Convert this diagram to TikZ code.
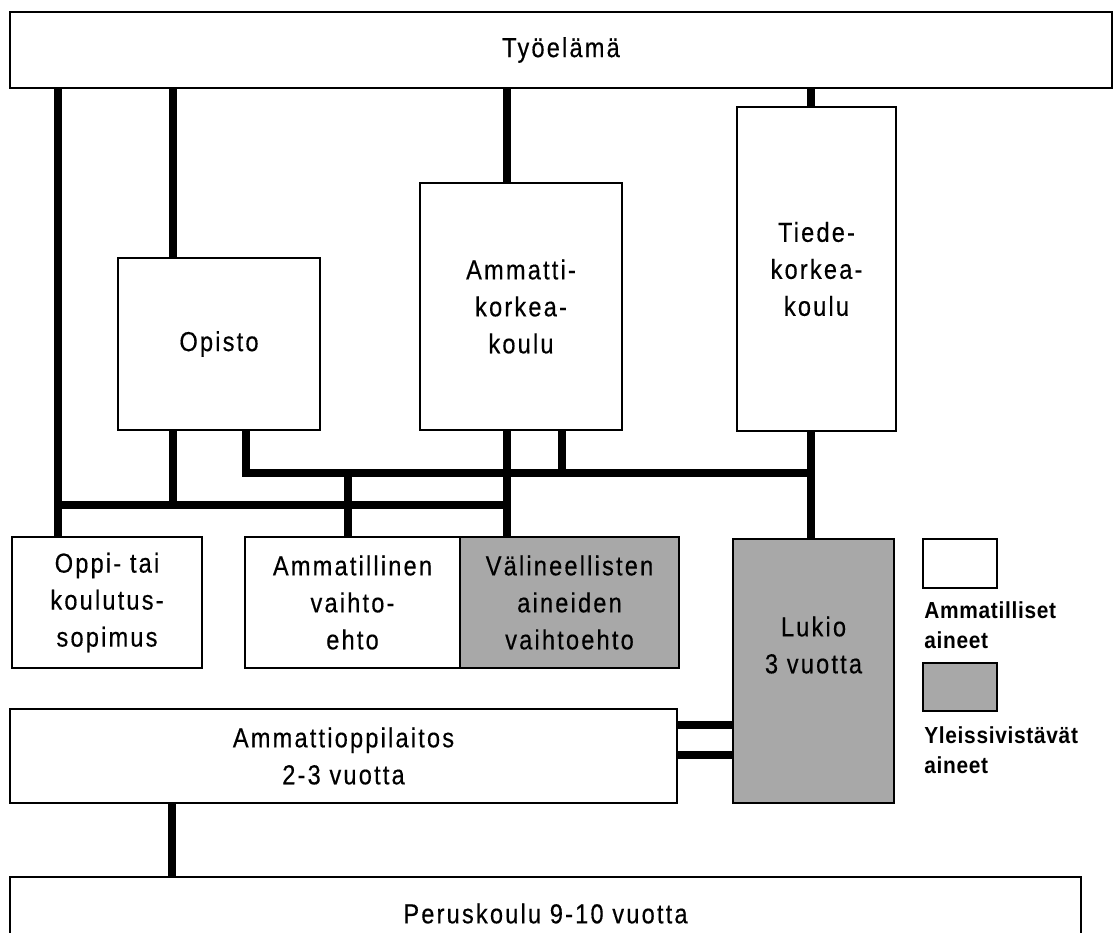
\documentclass[tikz,border=0pt]{standalone}
\usepackage{fontspec}
\setmainfont{Liberation Sans}[LetterSpace=8, FakeStretch=0.86, FakeBold=0.4]
\newfontfamily\legendfont{Liberation Sans}[LetterSpace=3, FakeStretch=0.9]
\usepackage{tikz}
\usetikzlibrary{positioning}
\definecolor{shadegray}{gray}{0.66}

\begin{document}
\begin{tikzpicture}[
        x=0.025cm, y=-0.025cm,
        box/.style={
            rectangle,
            draw,
            fill=white,
            line width=1.8pt,
            inner sep=0pt,
            align=center,
            font=\fontsize{19.5}{26.3}\selectfont
        },
        graybox/.style={
            box,
            fill=shadegray
        },
        txt/.style={
            align=center,
            inner sep=0pt,
            font=\fontsize{19.5}{26.3}\selectfont
        },
        legendtxt/.style={
            align=left,
            inner sep=0pt,
            anchor=north west,
            font=\legendfont\bfseries\fontsize{16.5}{21.3}\selectfont
        },
        pipe/.style={
            line width=6.3pt,
            line join=miter
        },
        thinpipe/.style={
            line width=5pt
        }
    ]

    \useasboundingbox (0,0) rectangle (1117,933);

    % Nodes
    \node[box, minimum width=27.55cm, minimum height=1.9cm] (work) at (561,50) {Työelämä};
    \node[box, minimum width=5.05cm, minimum height=4.3cm] (opisto) at (219,344) {Opisto};
    \node[box, minimum width=5.05cm, minimum height=6.175cm] (amk) at (521,306.5) {Ammatti-\\korkea-\\koulu};
    \node[box, minimum width=3.975cm, minimum height=8.1cm] (tiede) at (816.5,269) {Tiede-\\korkea-\\koulu};
    \node[box, minimum width=4.75cm, minimum height=3.275cm] (oppi) at (107,602.5) {Oppi- tai\\koulutus-\\sopimus};
    \node[box, minimum width=5.375cm, minimum height=3.275cm] (ammvaiht) at (352.5,602.5) {Ammatillinen\\vaihto-\\ehto};
    \node[graybox, minimum width=5.475cm, minimum height=3.275cm] (valin) at (569.5,602.5) {Välineellisten\\aineiden\\vaihtoehto};
    \node[graybox, minimum width=4.025cm, minimum height=6.6cm] (lukio) at (813.5,671) {};
    \node[txt] (lukiotxt) at (813.5,645) {Lukio\\3 vuotta};
    \node[box, minimum width=16.675cm, minimum height=2.35cm] (ammop) at (343.5,756) {Ammattioppilaitos\\2-3 vuotta};
    \node[box, minimum width=26.775cm, minimum height=1.825cm] (perus) at (545.5,913.5) {Peruskoulu 9-10 vuotta};

    % Legend
    \node[box, minimum width=1.85cm, minimum height=1.225cm] (legwhite) at (960,563.5) {};
    \node[legendtxt] (legwhitetxt) at (924,601) {Ammatilliset\\aineet};
    \node[graybox, minimum width=1.85cm, minimum height=1.2cm] (leggray) at (960,687) {};
    \node[legendtxt] (leggraytxt) at (924,726) {Yleissivistävät\\aineet};

    % Line positions
    \coordinate (xa) at (58,0);
    \coordinate (xb) at (173,0);
    \coordinate (xc) at (246,0);
    \coordinate (xd) at (348,0);
    \coordinate (xe) at (507,0);
    \coordinate (xf) at (562,0);
    \coordinate (xg) at (811,0);
    \coordinate (xh) at (172,0);
    \coordinate (lowbus) at (0,505);
    \coordinate (upbus) at (0,473);
    \coordinate (ya) at (0,725);
    \coordinate (yb) at (0,755);

    % Lines
    \draw[pipe] (work.south -| xa) -- (oppi.north -| xa);
    \draw[pipe] (work.south -| xb) -- (opisto.north -| xb);
    \draw[pipe] (opisto.south -| xb) -- (xb |- lowbus);
    \draw[pipe] (opisto.south -| xc) |- (upbus -| xg);
    \draw[pipe] (xd |- upbus) -- (ammvaiht.north -| xd);
    \draw[pipe] (work.south -| xe) -- (amk.north -| xe);
    \draw[pipe] (amk.south -| xe) -- (valin.north -| xe);
    \draw[pipe] (amk.south -| xf) -- (xf |- upbus);
    \draw[pipe] (work.south -| xg) -- (tiede.north -| xg);
    \draw[pipe] (tiede.south -| xg) -- (lukio.north -| xg);
    \draw[pipe] (xa |- lowbus) -- (xe |- lowbus);
    \draw[thinpipe] (ammop.south -| xh) -- (perus.north -| xh);
    \draw[pipe] (ammop.east |- ya) -- (lukio.west |- ya);
    \draw[pipe] (ammop.east |- yb) -- (lukio.west |- yb);

\end{tikzpicture}
\end{document}
